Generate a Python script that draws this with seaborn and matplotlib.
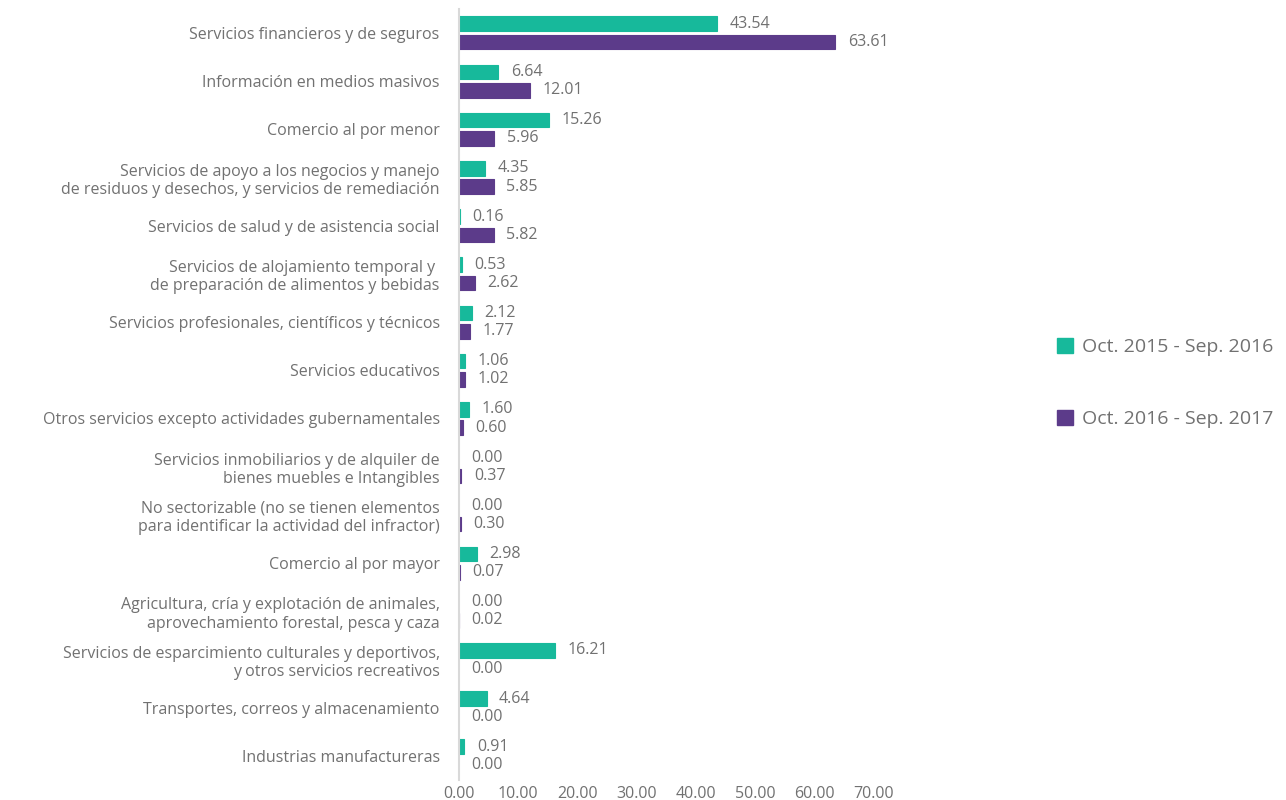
import pandas as pd
import seaborn as sns
import matplotlib.pyplot as plt

# sectors (top to bottom) and the two periods
sectors = [
    'Servicios financieros y de seguros',
    'Información en medios masivos',
    'Comercio al por menor',
    'Servicios de apoyo a los negocios y manejo\nde residuos y desechos, y servicios de remediación',
    'Servicios de salud y de asistencia social',
    'Servicios de alojamiento temporal y \nde preparación de alimentos y bebidas',
    'Servicios profesionales, científicos y técnicos',
    'Servicios educativos',
    'Otros servicios excepto actividades gubernamentales',
    'Servicios inmobiliarios y de alquiler de\nbienes muebles e Intangibles',
    'No sectorizable (no se tienen elementos\npara identificar la actividad del infractor)',
    'Comercio al por mayor',
    'Agricultura, cría y explotación de animales,\naprovechamiento forestal, pesca y caza',
    'Servicios de esparcimiento culturales y deportivos,\ny otros servicios recreativos',
    'Transportes, correos y almacenamiento',
    'Industrias manufactureras',
]
periods = ['Oct. 2015 - Sep. 2016', 'Oct. 2016 - Sep. 2017']
values_2016 = [43.54, 6.64, 15.26, 4.35, 0.16, 0.53, 2.12, 1.06, 1.60,
               0.00, 0.00, 2.98, 0.00, 16.21, 4.64, 0.91]
values_2017 = [63.61, 12.01, 5.96, 5.85, 5.82, 2.62, 1.77, 1.02, 0.60,
               0.37, 0.30, 0.07, 0.02, 0.00, 0.00, 0.00]
x_ticks = [0, 10, 20, 30, 40, 50, 60, 70]

colors = ['#17B99B', '#5C3B8A']
text_color = '#717171'

df = pd.DataFrame({
    'Sector': sectors * 2,
    'Periodo': [periods[0]] * len(sectors) + [periods[1]] * len(sectors),
    'Valor': values_2016 + values_2017,
})

sns.set_style('white')
plt.rcParams['font.family'] = ['Open Sans', 'DejaVu Sans']

fig = plt.figure(figsize=(12.86, 8), dpi=100)
ax = fig.add_axes([0.357, 0.025, 0.322, 0.964])

sns.barplot(ax=ax, data=df, y='Sector', x='Valor', hue='Periodo',
            orient='h', palette=colors, width=0.76, gap=0.2,
            saturation=1, legend=False, linewidth=0.8)
# thin outline so tiny values stay visible, none for zeros
for container, c in zip(ax.containers, colors):
    for bar in container:
        bar.set_edgecolor(c if bar.get_width() > 0 else 'none')

for container in ax.containers:
    ax.bar_label(container, fmt='%.2f', padding=9, fontsize=11.5,
                 color=text_color)

ax.set_xlim(0, 70)
ax.set_ylim(len(sectors) - 0.5, -0.5)
ax.set_xticks(x_ticks)
ax.set_xticklabels([f'{t:.2f}' for t in x_ticks])
ax.set_xlabel('')
ax.set_ylabel('')
ax.tick_params(axis='both', length=0, labelsize=11.5, labelcolor=text_color)
ax.tick_params(axis='y', pad=14)
ax.tick_params(axis='x', pad=4)
for lbl in ax.get_yticklabels():
    lbl.set_ha('right')
    lbl.set_multialignment('right')

for side in ['top', 'right', 'bottom']:
    ax.spines[side].set_visible(False)
ax.spines['left'].set_color('#D9D9D9')
ax.spines['left'].set_linewidth(1.5)

handles = [plt.Rectangle((0, 0), 1, 1, color=c) for c in colors]
fig.legend(handles, periods, loc='center left', bbox_to_anchor=(0.808, 0.521),
           frameon=False, fontsize=14, labelcolor=text_color,
           handlelength=0.85, handleheight=0.85, handletextpad=0.45,
           labelspacing=2.75)

plt.savefig('out.png', dpi=100)
